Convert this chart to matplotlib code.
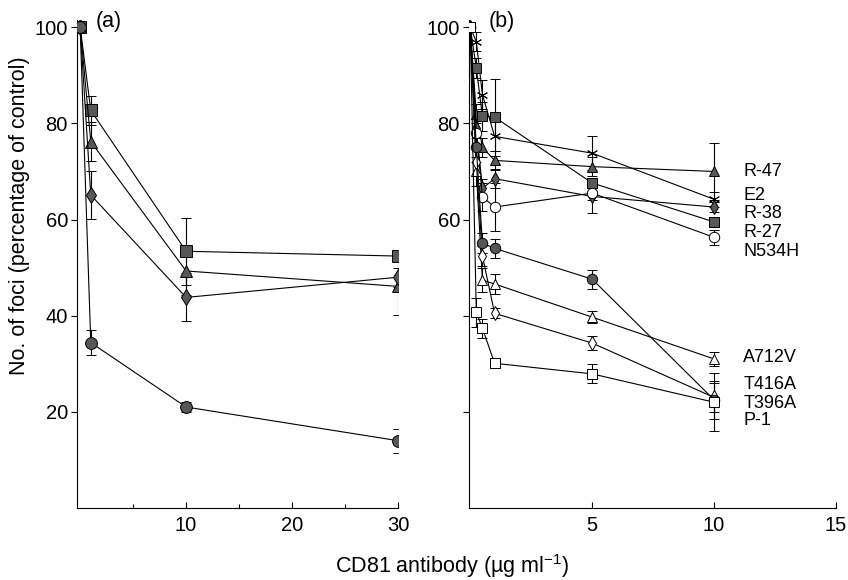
import matplotlib
matplotlib.use("Agg")
import matplotlib.pyplot as plt

plt.rcParams['font.family'] = ['Liberation Sans', 'DejaVu Sans']
plt.rcParams['mathtext.fontset'] = 'custom'
plt.rcParams['mathtext.rm'] = 'Liberation Sans'
plt.rcParams['mathtext.it'] = 'Liberation Sans:italic'
plt.rcParams['font.size'] = 14

# ---------------- panel (a) data ----------------
dose_a = [0, 1, 10, 30]
a_square = [100, 82.7, 53.4, 52.4]
a_square_err = [0, 3, 7, 1]
a_triangle = [100, 76.2, 49.3, 46.1]
a_triangle_err = [0, 4, 5, 6]
a_diamond = [100, 65.1, 43.8, 48.0]
a_diamond_err = [0, 5, 5, 2]
a_circle = [100, 34.4, 21.0, 14.0]
a_circle_err = [0, 2.6, 1, 2.5]

# ---------------- panel (b) data ----------------
dose_b = [0, 0.25, 0.5, 1, 5, 10]
variants = ['R-47', 'E2', 'R-38', 'R-27', 'N534H', 'A712V', 'T416A', 'T396A', 'P-1']
r47 = [100, 82, 75, 72.3, 71.0, 70.0]
r47_err = [0, 2, 2, 2, 2, 6]
e2 = [100, 97, 86, 77.3, 73.8, 64.2]
e2_err = [0, 2, 3, 3, 3.5, 1.5]
r38 = [100, 79, 66.5, 68.5, 64.8, 62.6]
r38_err = [0, 2, 2, 2, 3.5, 1]
r27 = [100, 91.5, 81.5, 81.3, 67.6, 59.5]
r27_err = [0, 2, 3, 8, 1, 1]
n534h = [100, 78, 64.7, 62.6, 65.5, 56.3]
n534h_err = [0, 3, 3, 5, 1.5, 1.5]
a712v = [100, 70, 47.4, 46.6, 39.7, 31.0]
a712v_err = [0, 3, 2.5, 2, 1.2, 1.5]
t416a = [100, 72, 52.4, 40.5, 34.3, 23.0]
t416a_err = [0, 3, 2, 1, 1.5, 3]
t396a = [100, 75, 55.1, 54.0, 47.6, 22.5]
t396a_err = [0, 3, 2, 2, 2, 4]
p1 = [100, 40.7, 37.4, 30.1, 27.9, 22.0]
p1_err = [0, 3, 2, 1, 2, 6]

# label placement beside the right panel (data units)
label_x = 11.2
label_y = [69.9, 64.9, 61.3, 57.4, 53.4, 31.2, 25.6, 21.8, 18.1]

FILL = '#575757'
asterisk = (6, 2, 0)

fig = plt.figure(figsize=(8.48, 5.80), dpi=100)
ax_a = fig.add_axes([77 / 848, 1 - 508 / 580, 321 / 848, 488 / 580])
ax_b = fig.add_axes([469 / 848, 1 - 508 / 580, 367 / 848, 488 / 580])


def draw(ax, x, y, err, marker, ms, filled=True):
    ax.errorbar(x, y, yerr=err, color='black', lw=0.8, elinewidth=0.8,
                capsize=3.5, capthick=0.8, marker=marker, ms=ms,
                mfc=(FILL if filled else 'white'), mec='black', mew=0.7,
                zorder=3)


# panel (a)
draw(ax_a, dose_a, a_square, a_square_err, 's', 9)
draw(ax_a, dose_a, a_triangle, a_triangle_err, '^', 8.5)
draw(ax_a, dose_a, a_diamond, a_diamond_err, 'd', 8.5)
draw(ax_a, dose_a, a_circle, a_circle_err, 'o', 8.5)

# panel (b)
series_b = [
    (r47, r47_err, '^', 7, True),
    (e2, e2_err, asterisk, 8, False),
    (r38, r38_err, 'd', 7.5, True),
    (r27, r27_err, 's', 7.5, True),
    (n534h, n534h_err, 'o', 7.5, False),
    (a712v, a712v_err, '^', 7.5, False),
    (t416a, t416a_err, 'd', 7.5, False),
    (t396a, t396a_err, 'o', 7.5, True),
    (p1, p1_err, 's', 7.5, False),
]
for vals, err, mk, ms, filled in series_b:
    draw(ax_b, dose_b, vals, err, mk, ms, filled)

for name, ly in zip(variants, label_y):
    ax_b.text(label_x, ly, name, fontsize=13, va='center', ha='left',
              clip_on=False)

for ax in (ax_a, ax_b):
    for side in ('top', 'right'):
        ax.spines[side].set_visible(False)
    for side in ('left', 'bottom'):
        ax.spines[side].set_linewidth(0.8)
    ax.set_ylim(0, 101.5)
    ax.set_yticks([20, 40, 60, 80, 100])
    ax.tick_params(axis='y', direction='out', length=4.5, width=0.8,
                   labelsize=14.5, pad=2)
    ax.tick_params(axis='x', which='major', direction='in', length=4,
                   width=0.8, labelsize=14.5, pad=6)
    ax.tick_params(axis='x', which='minor', direction='in', length=3,
                   width=0.8)

ax_a.set_xlim(-0.3, 30)
ax_a.set_xticks([10, 20, 30])
ax_a.set_xticks([5, 15, 25], minor=True)

ax_b.set_xlim(-0.05, 15)
ax_b.set_xticks([5, 10, 15])
ax_b.set_yticklabels(['', '', '60', '80', '100'])

fig.text(96 / 848, 1 - 21 / 580, '(a)', fontsize=15.5, va='center', ha='left')
fig.text(489 / 848, 1 - 21 / 580, '(b)', fontsize=15.5, va='center', ha='left')

fig.text(20 / 848, 1 - 216 / 580, 'No. of foci (percentage of control)',
         rotation=90, fontsize=15.5, va='center', ha='center')
fig.text(452 / 848, 1 - 566 / 580, r'CD81 antibody (µg ml$^{-1}$)',
         fontsize=15.5, va='center', ha='center')

fig.savefig('out.png', dpi=100)
